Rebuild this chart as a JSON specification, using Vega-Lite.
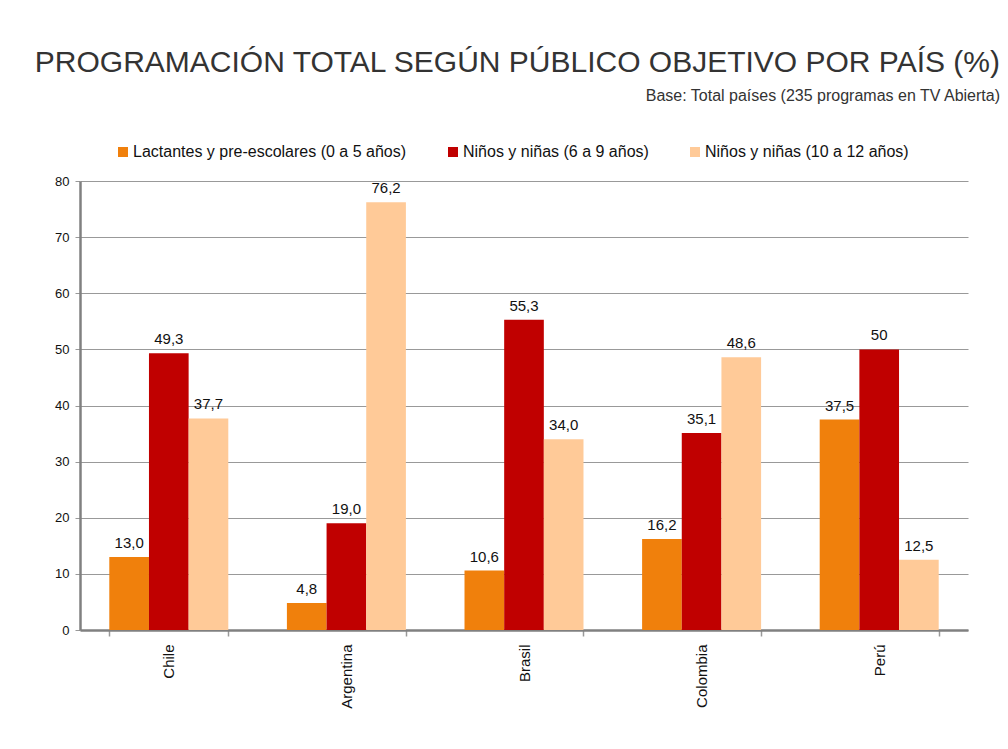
{
  "$schema": "https://vega.github.io/schema/vega-lite/v6.json",
  "width": 888,
  "height": 449,
  "autosize": {"type": "none"},
  "padding": {"left": 80, "top": 181, "right": 40, "bottom": 119},
  "background": "white",
  "title": {
    "text": "PROGRAMACIÓN TOTAL SEGÚN PÚBLICO OBJETIVO POR PAÍS (%)",
    "subtitle": "Base: Total países (235 programas en TV Abierta)",
    "anchor": "end",
    "dx": 32,
    "offset": 40,
    "font": "Liberation Sans",
    "fontSize": 30,
    "fontWeight": "normal",
    "color": "#333333",
    "subtitleFont": "Liberation Sans",
    "subtitleFontSize": 16,
    "subtitleColor": "#333333",
    "subtitlePadding": 10
  },
  "data": {
    "values": [
      {"pais": "Chile", "grupo": "Lactantes y pre-escolares (0 a 5 años)", "valor": 13.0, "etiqueta": "13,0"},
      {"pais": "Chile", "grupo": "Niños y niñas (6 a 9 años)", "valor": 49.3, "etiqueta": "49,3"},
      {"pais": "Chile", "grupo": "Niños y niñas (10 a 12 años)", "valor": 37.7, "etiqueta": "37,7"},
      {"pais": "Argentina", "grupo": "Lactantes y pre-escolares (0 a 5 años)", "valor": 4.8, "etiqueta": "4,8"},
      {"pais": "Argentina", "grupo": "Niños y niñas (6 a 9 años)", "valor": 19.0, "etiqueta": "19,0"},
      {"pais": "Argentina", "grupo": "Niños y niñas (10 a 12 años)", "valor": 76.2, "etiqueta": "76,2"},
      {"pais": "Brasil", "grupo": "Lactantes y pre-escolares (0 a 5 años)", "valor": 10.6, "etiqueta": "10,6"},
      {"pais": "Brasil", "grupo": "Niños y niñas (6 a 9 años)", "valor": 55.3, "etiqueta": "55,3"},
      {"pais": "Brasil", "grupo": "Niños y niñas (10 a 12 años)", "valor": 34.0, "etiqueta": "34,0"},
      {"pais": "Colombia", "grupo": "Lactantes y pre-escolares (0 a 5 años)", "valor": 16.2, "etiqueta": "16,2"},
      {"pais": "Colombia", "grupo": "Niños y niñas (6 a 9 años)", "valor": 35.1, "etiqueta": "35,1"},
      {"pais": "Colombia", "grupo": "Niños y niñas (10 a 12 años)", "valor": 48.6, "etiqueta": "48,6"},
      {"pais": "Perú", "grupo": "Lactantes y pre-escolares (0 a 5 años)", "valor": 37.5, "etiqueta": "37,5"},
      {"pais": "Perú", "grupo": "Niños y niñas (6 a 9 años)", "valor": 50, "etiqueta": "50"},
      {"pais": "Perú", "grupo": "Niños y niñas (10 a 12 años)", "valor": 12.5, "etiqueta": "12,5"}
    ]
  },
  "encoding": {
    "x": {
      "field": "pais",
      "type": "nominal",
      "sort": ["Chile", "Argentina", "Brasil", "Colombia", "Perú"],
      "scale": {"paddingInner": 0.33, "paddingOuter": 0.165},
      "axis": {
        "title": null,
        "labelAngle": -90,
        "labelFontSize": 15,
        "labelFont": "Liberation Sans",
        "labelColor": "#111111",
        "labelPadding": 8,
        "tickBand": "extent",
        "tickSize": 6,
        "tickColor": "#999999",
        "tickWidth": 1.5,
        "domainColor": "#808080",
        "domainWidth": 2.5,
        "grid": false
      }
    },
    "xOffset": {
      "field": "grupo",
      "type": "nominal",
      "sort": ["Lactantes y pre-escolares (0 a 5 años)", "Niños y niñas (6 a 9 años)", "Niños y niñas (10 a 12 años)"],
      "scale": {"paddingInner": 0, "paddingOuter": 0}
    },
    "y": {
      "field": "valor",
      "type": "quantitative",
      "scale": {"domain": [0, 80], "nice": false},
      "axis": {
        "title": null,
        "values": [0, 10, 20, 30, 40, 50, 60, 70, 80],
        "labelFontSize": 13,
        "labelFont": "Liberation Sans",
        "labelColor": "#111111",
        "labelPadding": 6,
        "tickSize": 5,
        "tickColor": "#999999",
        "domainColor": "#808080",
        "domainWidth": 2.5,
        "grid": true,
        "gridColor": "#999999",
        "gridWidth": 1.2
      }
    }
  },
  "layer": [
    {
      "mark": {"type": "bar"},
      "encoding": {
        "color": {
          "field": "grupo",
          "type": "nominal",
          "sort": ["Lactantes y pre-escolares (0 a 5 años)", "Niños y niñas (6 a 9 años)", "Niños y niñas (10 a 12 años)"],
          "scale": {
            "domain": ["Lactantes y pre-escolares (0 a 5 años)", "Niños y niñas (6 a 9 años)", "Niños y niñas (10 a 12 años)"],
            "range": ["#F0800C", "#C00000", "#FFCA98"]
          },
          "legend": {
            "title": null,
            "orient": "none",
            "legendX": 35,
            "legendY": -37,
            "direction": "horizontal",
            "symbolType": "square",
            "symbolSize": 100,
            "symbolStrokeWidth": 0,
            "labelFontSize": 16,
            "labelFont": "Liberation Sans",
            "labelColor": "#111111",
            "labelOffset": 2,
            "columnPadding": 38,
            "labelLimit": 400
          }
        }
      }
    },
    {
      "mark": {"type": "text", "baseline": "bottom", "dy": -6, "fontSize": 15, "font": "Liberation Sans", "color": "#111111"},
      "encoding": {
        "text": {"field": "etiqueta", "type": "nominal"}
      }
    }
  ],
  "config": {
    "view": {"stroke": null}
  }
}
